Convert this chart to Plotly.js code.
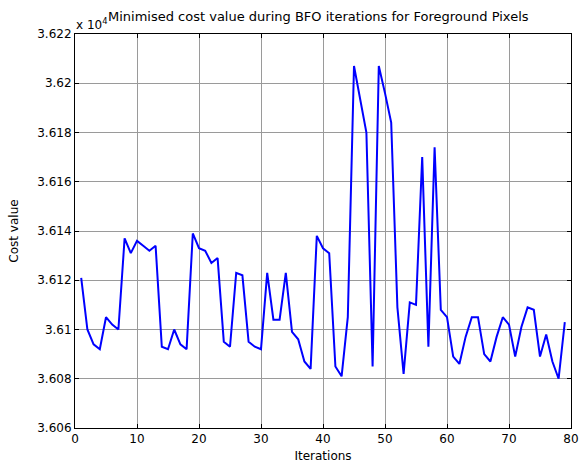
<!DOCTYPE html>
<html>
<head>
<meta charset="utf-8">
<script src="https://cdn.plot.ly/plotly-3.0.1.min.js"></script>
<style>html,body{margin:0;padding:0;background:#fff;}#chart{width:579px;height:466px;}</style>
</head>
<body>
<div id="chart"></div>
<script>
const iterations = [];
for (let i = 1; i <= 79; i++) iterations.push(i);
const costValues = [
  3.6121, 3.6100, 3.6094, 3.6092, 3.6105, 3.6102, 3.6100, 3.6137, 3.6131, 3.6136,
  3.6134, 3.6132, 3.6134, 3.6093, 3.6092, 3.6100, 3.6094, 3.6092, 3.6139, 3.6133,
  3.6132, 3.6127, 3.6129, 3.6095, 3.6093, 3.6123, 3.6122, 3.6095, 3.6093, 3.6092,
  3.6123, 3.6104, 3.6104, 3.6123, 3.6099, 3.6096, 3.6087, 3.6084, 3.6138, 3.6133,
  3.6131, 3.6085, 3.6081, 3.6105, 3.6207, 3.6194, 3.6180, 3.6085, 3.6207, 3.6196,
  3.6184, 3.6109, 3.6082, 3.6111, 3.6110, 3.6170, 3.6093, 3.6174, 3.6108, 3.6105,
  3.6089, 3.6086, 3.6097, 3.6105, 3.6105, 3.6090, 3.6087, 3.6097, 3.6105, 3.6102,
  3.6089, 3.6101, 3.6109, 3.6108, 3.6089, 3.6098, 3.6087, 3.6080, 3.6103
];
const xTickVals = [0, 10, 20, 30, 40, 50, 60, 70, 80];
const xTickText = ["0", "10", "20", "30", "40", "50", "60", "70", "80"];
const yTickVals = [3.606, 3.608, 3.610, 3.612, 3.614, 3.616, 3.618, 3.620, 3.622];
const yTickText = ["3.606", "3.608", "3.61", "3.612", "3.614", "3.616", "3.618", "3.62", "3.622"];
const titleText = "Minimised cost value during BFO iterations for Foreground Pixels";
const xLabel = "Iterations";
const yLabel = "Cost value";

const font = "DejaVu Sans, Verdana, sans-serif";

const trace = {
  x: iterations,
  y: costValues,
  type: "scatter",
  mode: "lines",
  line: {color: "#0000ff", width: 2},
  hoverinfo: "skip"
};

const axisCommon = {
  showline: true, linecolor: "#000", linewidth: 1, mirror: "ticks",
  ticks: "inside", ticklen: 4, tickcolor: "#000",
  showgrid: true, gridcolor: "#9a9a9a", gridwidth: 1,
  zeroline: false,
  tickfont: {family: font, size: 12, color: "#000"}
};

const layout = {
  width: 579, height: 466,
  margin: {l: 75, r: 8, t: 34, b: 38},
  paper_bgcolor: "#fff", plot_bgcolor: "#fff",
  showlegend: false,
  xaxis: Object.assign({}, axisCommon, {
    range: [0, 80], tickmode: "array", tickvals: xTickVals, ticktext: xTickText,
    title: {text: xLabel, font: {family: font, size: 12, color: "#000"}, standoff: 6}
  }),
  yaxis: Object.assign({}, axisCommon, {
    range: [3.606, 3.622], tickmode: "array", tickvals: yTickVals, ticktext: yTickText,
    title: {text: yLabel, font: {family: font, size: 12, color: "#000"}, standoff: 16}
  }),
  annotations: [
    {xref: "paper", yref: "paper", x: 0.062, y: 1.02, xanchor: "left", yanchor: "bottom",
     text: titleText, showarrow: false, font: {family: font, size: 13, color: "#000"}},
    {xref: "paper", yref: "paper", x: -0.002, y: 1.0, xanchor: "left", yanchor: "bottom",
     text: "x 10<sup>4</sup>", showarrow: false, font: {family: font, size: 12, color: "#000"}}
  ]
};

Plotly.newPlot("chart", [trace], layout, {displayModeBar: false, staticPlot: true});
</script>
</body>
</html>
